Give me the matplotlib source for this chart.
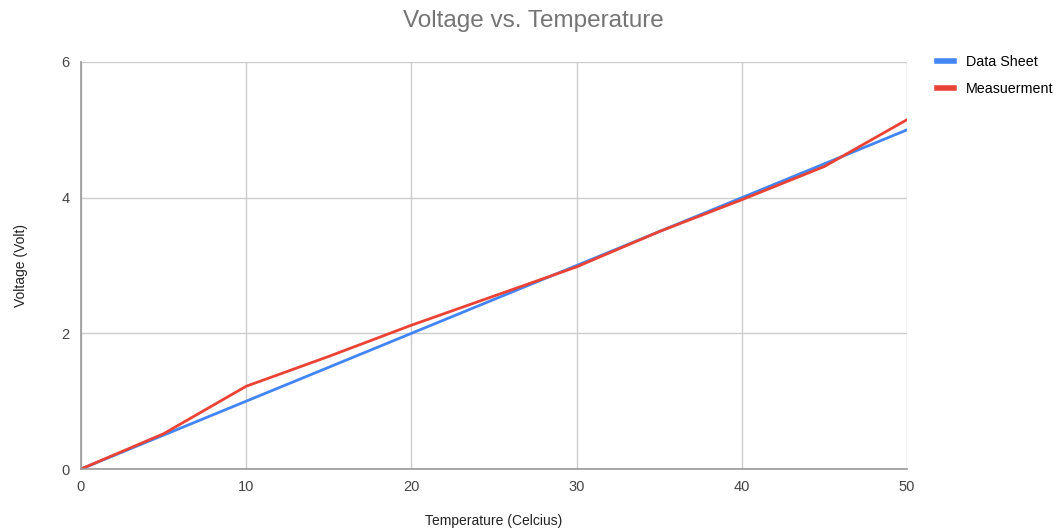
import matplotlib.pyplot as plt

# Temperatur (C) og spenning (V)
temp = [0, 5, 10, 15, 20, 25, 30, 35, 40, 45, 50]
data_sheet = [0, 0.5, 1.0, 1.5, 2.0, 2.5, 3.0, 3.5, 4.0, 4.5, 5.0]
measurement = [0, 0.52, 1.22, 1.66, 2.12, 2.55, 2.98, 3.50, 3.97, 4.46, 5.15]

plt.rcParams['font.family'] = ['Liberation Sans', 'DejaVu Sans']

fig = plt.figure(figsize=(10.6, 5.29), dpi=100)
ax = fig.add_axes([0.0764, 0.1134, 0.7793, 0.7694])

ax.plot(temp, data_sheet, color='#4285f4', lw=2, label='Data Sheet')
ax.plot(temp, measurement, color='#ea4335', lw=2, label='Measuerment')

ax.set_xlim(0, 50)
ax.set_ylim(0, 6)
ax.set_xticks(range(0, 51, 10))
ax.set_yticks(range(0, 7, 2))
ax.grid(color='#cccccc', lw=1)
ax.set_axisbelow(True)
for s in ['top', 'right']:
    ax.spines[s].set_visible(False)
for s in ['left', 'bottom']:
    ax.spines[s].set_color('#999999')
    ax.spines[s].set_linewidth(1.2)
ax.tick_params(length=0, labelsize=10.5, colors='#444444', pad=8)

fig.text(0.503, 0.96, 'Voltage vs. Temperature', ha='center', va='center',
         fontsize=17.5, color='#757575')
ax.set_xlabel('Temperature (Celcius)', fontsize=10, color='#222222', labelpad=14)
ax.set_ylabel('Voltage (Volt)', fontsize=10, color='#222222', labelpad=24)

leg = fig.legend(loc='upper left', bbox_to_anchor=(0.872, 0.92), frameon=False,
                 fontsize=10.3, handlelength=1.2, handletextpad=0.8, labelspacing=0.9)
for h in leg.get_lines():
    h.set_linewidth(4)

plt.savefig('out.png', dpi=100)
